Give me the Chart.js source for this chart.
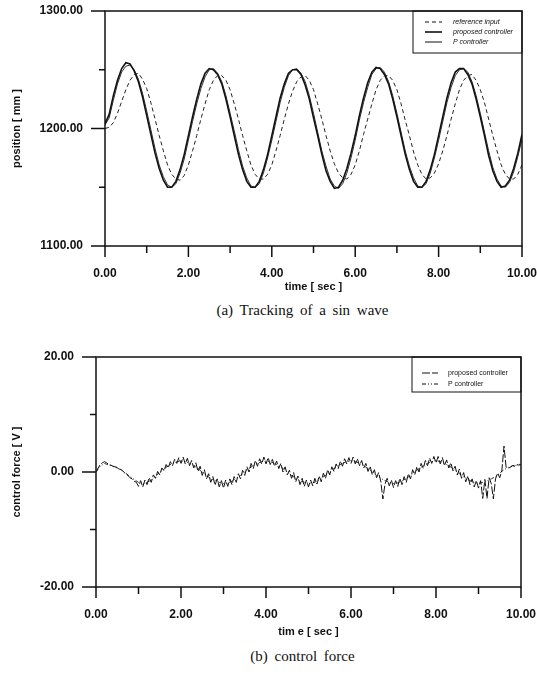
<!DOCTYPE html>
<html>
<head>
<meta charset="utf-8">
<script src="https://cdn.jsdelivr.net/npm/chart.js@4.4.1/dist/chart.umd.min.js"></script>
<style>
  body { margin: 0; background: #fff; width: 537px; height: 679px; position: relative; overflow: hidden; }
  .panel { position: absolute; left: 0; }
  .cap { position: absolute; left: 34px; width: 537px; text-align: center;
         font-family: "Liberation Serif", "DejaVu Serif", serif; font-size: 15px; word-spacing: 3px; color: #111; }
</style>
</head>
<body>
<div class="panel" style="top:0"><canvas id="position-chart" width="537" height="300"></canvas></div>
<div class="cap" style="top:302px">(a) Tracking of a sin wave</div>
<div class="panel" style="top:330px"><canvas id="force-chart" width="537" height="315"></canvas></div>
<div class="cap" style="top:648px">(b) control force</div>

<script>
// time axis, 0.1 s samples for (a) and the P controller force, 0.05 s for proposed force
const timeA = Array.from({length: 101}, (_, i) => i / 10);
const timeB = Array.from({length: 201}, (_, i) => i / 20);

// (a) position [mm]
const refInput = [
  1200,1201,1205,1213,1223,1233,1241,1246,1247,1242,
  1234,1222,1208,1194,1181,1169,1161,1157,1156,1160,
  1169,1181,1194,1208,1221,1233,1241,1245,1245,1241,
  1233,1221,1208,1194,1181,1169,1161,1157,1157,1161,
  1169,1181,1194,1208,1221,1232,1240,1244,1245,1241,
  1233,1221,1208,1194,1181,1170,1162,1158,1157,1161,
  1169,1181,1195,1208,1221,1233,1241,1245,1245,1241,
  1233,1221,1207,1194,1180,1169,1161,1157,1158,1162,
  1170,1181,1194,1208,1221,1233,1241,1245,1246,1241,
  1233,1222,1208,1194,1181,1169,1161,1157,1157,1161,
  1169];
const proposedPos = [
  1204,1212,1228,1241,1251,1256,1255,1249,1240,1227,
  1211,1195,1179,1166,1156,1150,1150,1155,1165,1178,
  1194,1210,1225,1238,1247,1251,1250,1246,1238,1225,
  1210,1194,1178,1165,1155,1150,1150,1155,1165,1178,
  1194,1210,1226,1238,1247,1250,1250,1246,1237,1225,
  1209,1194,1178,1164,1155,1149,1150,1156,1166,1179,
  1194,1211,1226,1239,1248,1252,1251,1246,1238,1225,
  1210,1194,1178,1165,1155,1150,1150,1155,1165,1178,
  1194,1210,1226,1239,1248,1251,1251,1246,1238,1225,
  1210,1194,1177,1164,1155,1150,1151,1156,1166,1179,
  1195];
const pCtrlPos = [
  1203,1209,1224,1238,1248,1253,1254,1250,1242,1230,
  1215,1199,1183,1169,1159,1152,1150,1153,1162,1174,
  1190,1206,1221,1234,1244,1250,1251,1247,1240,1228,
  1213,1198,1182,1168,1158,1151,1150,1153,1162,1175,
  1190,1206,1222,1235,1245,1250,1251,1247,1240,1228,
  1213,1197,1181,1168,1157,1151,1149,1153,1162,1175,
  1190,1207,1222,1235,1246,1251,1252,1248,1240,1228,
  1213,1197,1181,1168,1158,1151,1150,1153,1162,1175,
  1190,1206,1222,1235,1245,1250,1251,1248,1240,1228,
  1213,1197,1181,1167,1157,1151,1150,1154,1163,1176,
  1191];

// (b) control force [V]
const proposedForce = [
  0.0,0.7,1.3,1.6,1.8,1.6,1.3,1.2,1.0,0.9,0.8,0.5,0.4,0.0,-0.3,-0.6,-1.0,-1.2,-1.6,-1.8,
  -2.5,-1.5,-2.6,-1.4,-2.2,-1.0,-1.8,-0.5,-1.1,0.1,-0.5,0.7,0.2,1.3,0.7,1.8,1.1,2.2,1.5,2.5,
  1.5,2.6,1.4,2.4,1.1,2.0,0.7,1.6,0.1,1.0,-0.6,0.4,-1.2,-0.3,-1.8,-0.8,-2.3,-1.2,-2.6,-1.5,
  -2.8,-1.4,-2.5,-1.2,-2.2,-0.8,-1.8,-0.3,-1.2,0.3,-0.6,0.9,0.0,1.5,0.6,2.0,1.0,2.3,1.4,2.6,
  1.4,2.5,1.3,2.2,1.0,1.9,0.6,1.5,0.0,0.9,-0.5,0.3,-1.1,-0.1,-1.7,-0.7,-2.2,-1.1,-2.5,-1.4,
  -2.6,-1.4,-2.4,-1.1,-2.1,-0.7,-1.7,-0.2,-1.1,0.4,-0.5,0.9,0.1,1.4,0.6,1.9,1.0,2.3,1.4,2.5,
  1.5,2.6,1.4,2.3,1.1,2.0,0.7,1.5,0.1,1.0,-0.5,0.4,-1.0,-0.1,-1.6,-4.7,-2.1,-1.1,-2.4,-1.4,
  -2.7,-1.5,-2.5,-1.1,-2.2,-0.8,-1.8,-0.3,-1.2,0.4,-0.5,0.9,0.0,1.5,0.6,2.0,1.1,2.4,1.5,2.7,
  1.6,2.7,1.4,2.5,1.1,2.1,0.7,1.6,0.2,1.0,-0.5,0.5,-1.1,-0.1,-1.7,-0.7,-2.2,-1.2,-2.6,-1.5,
  -2.8,-1.5,-4.6,-1.3,-4.6,-1.0,-2.0,-4.7,-1.2,-0.2,-1.0,0.3,4.5,0.8,0.7,0.8,1.1,1.0,1.3,1.2,
  1.3];
const pCtrlForce = [
  0.0,1.0,1.5,1.2,1.0,0.7,0.3,-0.2,-0.8,-1.3,
  -1.8,-2.1,-1.8,-1.4,-0.7,-0.1,0.5,1.1,1.5,1.8,
  1.9,1.8,1.5,1.1,0.6,0.0,-0.6,-1.1,-1.5,-1.8,
  -2.0,-1.9,-1.6,-1.1,-0.6,0.0,0.6,1.1,1.5,1.8,
  1.9,1.8,1.5,1.1,0.6,0.0,-0.6,-1.1,-1.5,-1.8,
  -1.9,-1.9,-1.6,-1.1,-0.6,0.0,0.6,1.1,1.5,1.8,
  1.9,1.8,1.5,1.1,0.6,0.0,-0.6,-1.1,-1.5,-1.8,
  -2.0,-1.9,-1.6,-1.1,-0.6,0.0,0.6,1.1,1.5,1.8,
  2.0,1.8,1.5,1.1,0.6,0.0,-0.6,-1.1,-1.5,-1.8,
  -2.0,-1.8,-1.5,-1.2,-0.8,-0.2,0.4,0.8,1.1,1.2,
  1.4];

const xy = (ts, vs) => vs.map((v, i) => ({x: ts[i], y: v}));

const tickFont = {family: 'Liberation Sans', weight: 'bold', size: 12};
const titleFont = {family: 'Liberation Sans', weight: 'bold', size: 11};

// box round the plot, long/short ticks, and the boxed legend inside the plot
const frameTicks = {
  id: 'frameTicks',
  afterDraw(chart, args, opts) {
    const {ctx, chartArea: a, scales: {x, y}} = chart;
    ctx.save();
    ctx.strokeStyle = '#111';
    ctx.lineWidth = 1.5;
    ctx.setLineDash([]);
    ctx.strokeRect(a.left, a.top, a.right - a.left, a.bottom - a.top);
    ctx.beginPath();
    x.ticks.forEach(t => {
      const px = x.getPixelForValue(t.value);
      ctx.moveTo(px, a.bottom);
      ctx.lineTo(px, a.bottom + (t.label ? 11 : 7));
    });
    y.ticks.forEach(t => {
      const py = y.getPixelForValue(t.value);
      ctx.moveTo(a.left - (t.label ? 14 : 6), py);
      ctx.lineTo(a.left, py);
    });
    ctx.stroke();

    // legend
    const lg = opts.legend;
    ctx.lineWidth = 1;
    ctx.strokeRect(lg.left, a.top, a.right - lg.left, lg.bottom - a.top);
    ctx.font = lg.font;
    ctx.fillStyle = '#111';
    ctx.textBaseline = 'middle';
    chart.data.datasets.forEach((ds, i) => {
      const yy = lg.rows[i];
      ctx.beginPath();
      ctx.lineWidth = ds.borderWidth;
      ctx.setLineDash(ds.borderDash || []);
      ctx.moveTo(lg.lineX[0], yy);
      ctx.lineTo(lg.lineX[1], yy);
      ctx.stroke();
      ctx.fillText(ds.label, lg.textX, yy);
    });
    ctx.restore();
  }
};

function baseOptions(cfg) {
  return {
    responsive: false,
    animation: false,
    layout: {padding: {top: cfg.top, right: cfg.right, left: 0, bottom: 0}},
    plugins: {legend: {display: false}, tooltip: {enabled: false}, frameTicks: {legend: cfg.legend}},
    elements: {point: {radius: 0}, line: {tension: 0}},
    scales: {
      x: {
        type: 'linear', min: 0, max: 10,
        grid: {display: false}, border: {display: false},
        ticks: {stepSize: 1, autoSkip: false, maxRotation: 0, padding: 12, color: '#111', font: tickFont,
                callback: v => v % 2 === 0 ? v.toFixed(2) : ''},
        title: {display: true, text: cfg.xTitle, color: '#111', font: titleFont, padding: {top: 0, bottom: cfg.xTitlePad}},
        afterFit: s => { s.height = cfg.xHeight; s.paddingLeft = 0; s.paddingRight = 0; }
      },
      y: {
        min: cfg.yMin, max: cfg.yMax,
        grid: {display: false}, border: {display: false},
        ticks: {stepSize: cfg.yStep, autoSkip: false, padding: 14, color: '#111', font: tickFont,
                callback: v => v % (2 * cfg.yStep) === 0 ? v.toFixed(2) : ''},
        title: {display: true, text: cfg.yTitle, color: '#111', font: titleFont, padding: {top: 10, bottom: 0}},
        afterFit: s => { s.width = cfg.yWidth; s.paddingTop = 0; s.paddingBottom = 0; }
      }
    }
  };
}

// (a) Tracking of a sin wave
new Chart(document.querySelector('#position-chart').getContext('2d'), {
  type: 'line',
  data: {
    datasets: [
      {label: 'reference input', data: xy(timeA, refInput), borderColor: '#222', borderWidth: 1, borderDash: [4, 3]},
      {label: 'proposed controller', data: xy(timeA, proposedPos), borderColor: '#111', borderWidth: 1.6},
      {label: 'P controller', data: xy(timeA, pCtrlPos), borderColor: '#333', borderWidth: 1}
    ]
  },
  options: baseOptions({
    top: 11, right: 15, xHeight: 54, yWidth: 105, xTitlePad: 6,
    yMin: 1100, yMax: 1300, yStep: 50,
    xTitle: 'time [ sec ]', yTitle: 'position [ mm ]',
    legend: {left: 413, bottom: 53, rows: [22, 32, 42], lineX: [425, 442], textX: 453,
             font: 'italic 7px "Liberation Sans"'}
  }),
  plugins: [frameTicks]
});

// (b) control force
new Chart(document.querySelector('#force-chart').getContext('2d'), {
  type: 'line',
  data: {
    datasets: [
      {label: 'proposed controller', data: xy(timeB, proposedForce), borderColor: '#111', borderWidth: 1, borderDash: [8, 2]},
      {label: 'P controller', data: xy(timeA, pCtrlForce), borderColor: '#333', borderWidth: 1, borderDash: [4, 2, 1, 2, 1, 2]}
    ]
  },
  options: baseOptions({
    top: 27, right: 16, xHeight: 58, yWidth: 96, xTitlePad: 6,
    yMin: -20, yMax: 20, yStep: 10,
    xTitle: 'tim e [ sec ]', yTitle: 'control force [ V ]',
    legend: {left: 412, bottom: 62, rows: [43, 54], lineX: [422, 438], textX: 448,
             font: '7px "Liberation Sans"'}
  }),
  plugins: [frameTicks]
});
</script>
</body>
</html>
